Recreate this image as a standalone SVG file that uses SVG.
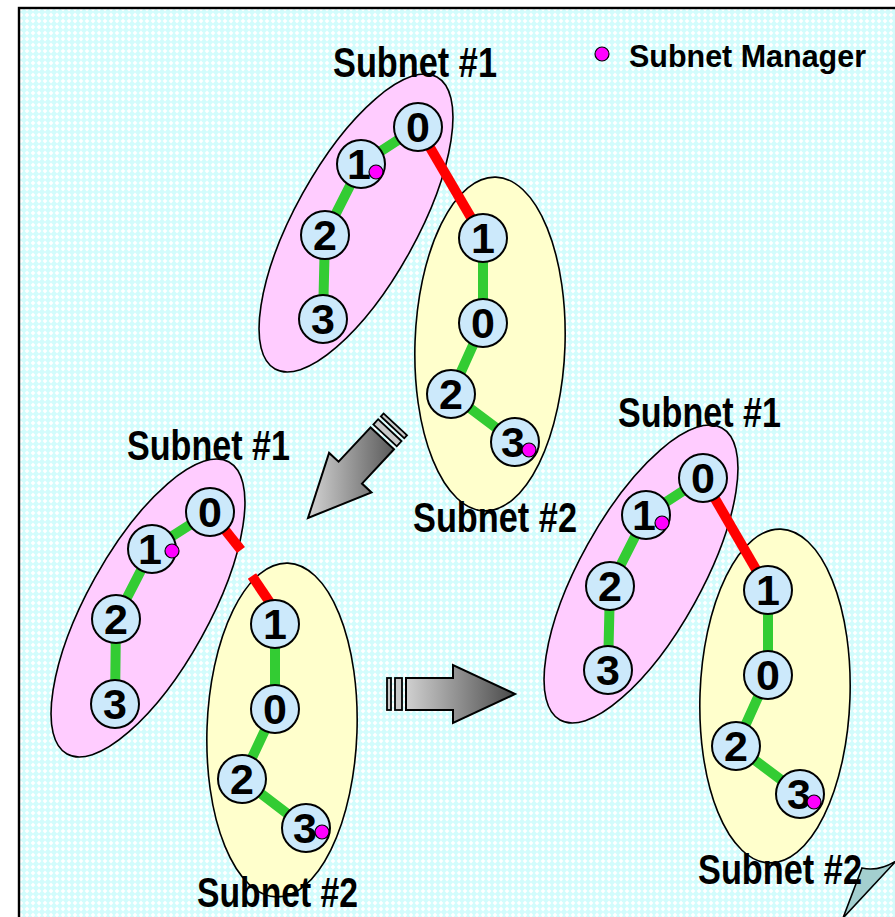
<svg xmlns="http://www.w3.org/2000/svg" width="895" height="917" viewBox="0 0 895 917">
  <defs>
    <!-- light cyan lattice used as the slide background -->
    <pattern id="bg" width="6" height="6" patternUnits="userSpaceOnUse">
      <rect width="6" height="6" fill="#d2fcfc"/>
      <path d="M3 0.6 L5.4 3 L3 5.4 L0.6 3Z" fill="#ffffff"/>
    </pattern>
    <linearGradient id="arrowGrad" x1="0" y1="0" x2="1" y2="0">
      <stop offset="0" stop-color="#d0d0d0"/>
      <stop offset="1" stop-color="#4a4a4a"/>
    </linearGradient>
    <linearGradient id="diagGrad" x1="0" y1="0" x2="1" y2="0">
      <stop offset="0" stop-color="#d4d4d4"/>
      <stop offset="1" stop-color="#5a5a5a"/>
    </linearGradient>
  </defs>
  <style>
    .pink { fill: #ffccff; stroke: #000; stroke-width: 1.6; }
    .yellow { fill: #ffffcc; stroke: #000; stroke-width: 1.6; }
    .node circle { fill: #cce9fb; stroke: #000; stroke-width: 2; }
    .node text { font-family: "Liberation Sans", Arial, sans-serif; font-weight: bold; font-size: 43px; text-anchor: middle; fill: #000; }
    .sm, .node circle.sm { fill: #ff00ff; stroke: #000; stroke-width: 1.2; }
    .green { stroke: #33cc33; stroke-width: 10; fill: none; }
    .red { stroke: #ff0000; stroke-width: 10; fill: none; }
    .label { font-family: "Liberation Sans", Arial, sans-serif; font-weight: bold; font-size: 43px; fill: #000; }
    .legend { font-family: "Liberation Sans", Arial, sans-serif; font-weight: bold; font-size: 32px; fill: #000; }
    .arrow { stroke: #000; stroke-width: 2; stroke-linejoin: miter; }
    .stripe { fill: #c8c8c8; stroke: #000; stroke-width: 1.8; }
  </style>

  <!-- page background and frame -->
  <rect x="0" y="0" width="895" height="917" fill="#ffffff"/>
  <rect x="19" y="8" width="900" height="930" fill="url(#bg)" stroke="#000" stroke-width="2.4"/>

  <!-- subnet regions -->
  <g id="regions">
    <ellipse id="subnetA1" class="pink" cx="356" cy="223" rx="61" ry="167" transform="rotate(29 356 223)"/>
    <ellipse id="subnetA2" class="yellow" cx="490" cy="344" rx="75" ry="167" transform="rotate(2 490 344)"/>
    <ellipse id="subnetB1" class="pink" cx="148" cy="608" rx="61" ry="167" transform="rotate(29 148 608)"/>
    <ellipse id="subnetB2" class="yellow" cx="282" cy="730" rx="75" ry="167" transform="rotate(2 282 730)"/>
    <ellipse id="subnetC1" class="pink" cx="641" cy="574" rx="61" ry="167" transform="rotate(29 641 574)"/>
    <ellipse id="subnetC2" class="yellow" cx="775" cy="696" rx="75" ry="167" transform="rotate(2 775 696)"/>
  </g>

  <!-- links -->
  <g id="connectors">
    <!-- top pair -->
    <polyline class="green" points="418,127 361,164 325,235 323,319"/>
    <polyline class="green" points="483,238 483,323 451,394 515,442"/>
    <line class="red" x1="418" y1="127" x2="483" y2="238"/>
    <!-- left pair (link broken) -->
    <polyline class="green" points="210,512 152,549 116,619 115,704"/>
    <polyline class="green" points="275,624 275,709 242,779 306,828"/>
    <line class="red" x1="214" y1="516" x2="241" y2="550"/>
    <line class="red" x1="252" y1="576" x2="275" y2="610"/>
    <!-- right pair -->
    <polyline class="green" points="703,478 646,515 610,586 608,670"/>
    <polyline class="green" points="768,590 768,675 736,746 800,794"/>
    <line class="red" x1="703" y1="478" x2="768" y2="590"/>
  </g>

  <!-- top pair: nodes -->
  <g id="A1-0" class="node"><circle cx="418" cy="127" r="24"/><text x="418" y="142">0</text></g>
  <g id="A1-1" class="node"><circle cx="361" cy="164" r="24"/><text x="359" y="179">1</text><circle class="sm" cx="376" cy="172" r="7"/></g>
  <g id="A1-2" class="node"><circle cx="325" cy="235" r="24"/><text x="325" y="250">2</text></g>
  <g id="A1-3" class="node"><circle cx="323" cy="319" r="24"/><text x="323" y="334">3</text></g>
  <g id="A2-1" class="node"><circle cx="483" cy="238" r="24"/><text x="483" y="253">1</text></g>
  <g id="A2-0" class="node"><circle cx="483" cy="323" r="24"/><text x="483" y="338">0</text></g>
  <g id="A2-2" class="node"><circle cx="451" cy="394" r="24"/><text x="451" y="409">2</text></g>
  <g id="A2-3" class="node"><circle cx="515" cy="442" r="24"/><text x="513" y="457">3</text><circle class="sm" cx="529" cy="450" r="7"/></g>

  <!-- left pair: nodes -->
  <g id="B1-0" class="node"><circle cx="210" cy="512" r="24"/><text x="210" y="527">0</text></g>
  <g id="B1-1" class="node"><circle cx="152" cy="549" r="24"/><text x="150" y="564">1</text><circle class="sm" cx="172" cy="551" r="7"/></g>
  <g id="B1-2" class="node"><circle cx="116" cy="619" r="24"/><text x="116" y="634">2</text></g>
  <g id="B1-3" class="node"><circle cx="115" cy="704" r="24"/><text x="115" y="719">3</text></g>
  <g id="B2-1" class="node"><circle cx="275" cy="624" r="24"/><text x="275" y="639">1</text></g>
  <g id="B2-0" class="node"><circle cx="275" cy="709" r="24"/><text x="275" y="724">0</text></g>
  <g id="B2-2" class="node"><circle cx="242" cy="779" r="24"/><text x="242" y="794">2</text></g>
  <g id="B2-3" class="node"><circle cx="306" cy="828" r="24"/><text x="305" y="843">3</text><circle class="sm" cx="322" cy="832" r="7"/></g>

  <!-- right pair: nodes -->
  <g id="C1-0" class="node"><circle cx="703" cy="478" r="24"/><text x="703" y="493">0</text></g>
  <g id="C1-1" class="node"><circle cx="646" cy="515" r="24"/><text x="644" y="530">1</text><circle class="sm" cx="662" cy="523" r="7"/></g>
  <g id="C1-2" class="node"><circle cx="610" cy="586" r="24"/><text x="610" y="601">2</text></g>
  <g id="C1-3" class="node"><circle cx="608" cy="670" r="24"/><text x="608" y="685">3</text></g>
  <g id="C2-1" class="node"><circle cx="768" cy="590" r="24"/><text x="768" y="605">1</text></g>
  <g id="C2-0" class="node"><circle cx="768" cy="675" r="24"/><text x="768" y="690">0</text></g>
  <g id="C2-2" class="node"><circle cx="736" cy="746" r="24"/><text x="736" y="761">2</text></g>
  <g id="C2-3" class="node"><circle cx="800" cy="794" r="24"/><text x="799" y="809">3</text><circle class="sm" cx="814" cy="802" r="7"/></g>

  <!-- transition arrows -->
  <g id="arrow-split">
    <g transform="translate(308 518) rotate(133)">
      <rect class="stripe" x="-128" y="-16" width="4" height="32"/>
      <rect class="stripe" x="-120" y="-16" width="7" height="32"/>
    </g>
    <polygon class="arrow" fill="url(#diagGrad)" points="394,449.2 362,483.6 371.5,492.4 308,518 329.1,452.9 338.6,461.7 370.6,427.4"/>
  </g>
  <g id="arrow-merge">
    <rect class="stripe" x="387" y="678" width="4" height="32"/>
    <rect class="stripe" x="395" y="678" width="7" height="32"/>
    <polygon class="arrow" fill="url(#arrowGrad)" points="406,678 453,678 453,665 515,694 453,723 453,710 406,710"/>
  </g>

  <!-- page curl in the corner -->
  <path id="curl" d="M843,918 L862,868 Q878,872 896,861 Z" fill="#a3cfcf" stroke="#000" stroke-width="1.6"/>

  <!-- labels -->
  <g id="labels">
    <text class="label" x="333" y="77" textLength="164" lengthAdjust="spacingAndGlyphs">Subnet #1</text>
    <text class="label" x="413" y="532" textLength="164" lengthAdjust="spacingAndGlyphs">Subnet #2</text>
    <text class="label" x="127" y="460" textLength="163" lengthAdjust="spacingAndGlyphs">Subnet #1</text>
    <text class="label" x="197" y="907" textLength="161" lengthAdjust="spacingAndGlyphs">Subnet #2</text>
    <text class="label" x="618" y="427" textLength="163" lengthAdjust="spacingAndGlyphs">Subnet #1</text>
    <text class="label" x="698" y="884" textLength="164" lengthAdjust="spacingAndGlyphs">Subnet #2</text>
  </g>

  <!-- legend -->
  <g id="legend">
    <circle class="sm" cx="602" cy="54" r="7"/>
    <text class="legend" x="629" y="67" textLength="237" lengthAdjust="spacingAndGlyphs">Subnet Manager</text>
  </g>
</svg>
